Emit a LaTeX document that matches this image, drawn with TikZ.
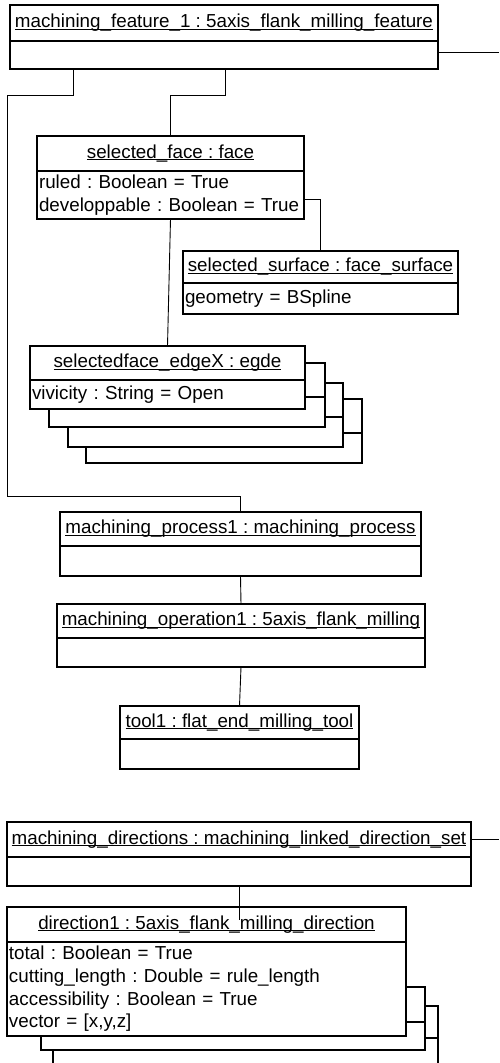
\documentclass[tikz,border=0pt]{standalone}
\usepackage{fontspec}
\setmainfont{Liberation Sans}
\usetikzlibrary{positioning}

\newcommand{\umlfont}{\fontsize{18.8}{22.7}\selectfont\frenchspacing}
\newcommand{\uname}[1]{\setbox0\hbox{#1}\rlap{\rule[-1.7pt]{\wd0}{0.9pt}}\box0}

\tikzset{
  objtitle/.style={draw, line width=1.8pt, fill=white, inner sep=0pt, outer sep=0pt, anchor=north west, font=\umlfont},
  objbody/.style={draw, line width=1.8pt, fill=white, inner xsep=2pt, inner ysep=0pt, outer sep=0pt, align=left, font=\umlfont},
  objshadow/.style={draw, line width=1.8pt, fill=white},
  link/.style={draw, line width=0.9pt},
}

\begin{document}
\begin{tikzpicture}[x=1pt, y=-1pt]
  \useasboundingbox (0,0) rectangle (499,1063);

  % machining feature
  \node[objtitle, minimum width=428pt, minimum height=36pt] (feat) at (10,5) {\uname{machining\_feature\_1 : 5axis\_flank\_milling\_feature}};
  \node[objbody, minimum width=428pt, minimum height=28pt, below=0pt of feat] (featbody) {};

  % selected face
  \node[objtitle, minimum width=267pt, minimum height=35pt] (face) at (37,136) {\uname{selected\_face : face}};
  \node[objbody, text width=263pt, minimum height=48pt, below=0pt of face] (facebody) {ruled : Boolean = True\\developpable : Boolean = True};

  % selected surface
  \node[objtitle, minimum width=275pt, minimum height=32pt] (surf) at (183,251) {\uname{selected\_surface : face\_surface}};
  \node[objbody, text width=271pt, minimum height=31pt, below=0pt of surf] (surfbody) {geometry = BSpline};

  % edges (stacked)
  \draw[objshadow] (86,399) rectangle (362,463);
  \draw[objshadow] (86,433) -- (362,433);
  \draw[objshadow] (68,383) rectangle (343,447);
  \draw[objshadow] (68,417) -- (343,417);
  \draw[objshadow] (49,363) rectangle (325,427);
  \draw[objshadow] (49,397) -- (325,397);
  \node[objtitle, minimum width=275pt, minimum height=34pt] (edge) at (30,346) {\uname{selectedface\_edgeX : egde}};
  \node[objbody, text width=271pt, minimum height=29pt, below=0pt of edge] (edgebody) {vivicity : String = Open};

  % process, operation, tool
  \node[objtitle, minimum width=361pt, minimum height=34pt] (proc) at (60,512) {\uname{machining\_process1 : machining\_process}};
  \node[objbody, minimum width=361pt, minimum height=30pt, below=0pt of proc] (procbody) {};
  \node[objtitle, minimum width=368pt, minimum height=34pt] (oper) at (57,604) {\uname{machining\_operation1 : 5axis\_flank\_milling}};
  \node[objbody, minimum width=368pt, minimum height=29pt, below=0pt of oper] (operbody) {};
  \node[objtitle, minimum width=239pt, minimum height=33pt] (tool) at (120,706) {\uname{tool1 : flat\_end\_milling\_tool}};
  \node[objbody, minimum width=239pt, minimum height=30pt, below=0pt of tool] (toolbody) {};

  % directions
  \node[objtitle, minimum width=464pt, minimum height=35pt] (dirs) at (7,822) {\uname{machining\_directions : machining\_linked\_direction\_set}};
  \node[objbody, minimum width=464pt, minimum height=29pt, below=0pt of dirs] (dirsbody) {};

  \draw[objshadow] (53,1006) rectangle (438,1069);
  \draw[objshadow] (53,1038) -- (438,1038);
  \draw[objshadow] (41,987) rectangle (425,1050);
  \draw[objshadow] (41,1022) -- (425,1022);
  \node[objtitle, minimum width=399pt, minimum height=35pt] (dir1) at (7,907) {\uname{direction1 : 5axis\_flank\_milling\_direction}};
  \node[objbody, text width=395pt, minimum height=94pt, below=0pt of dir1] (dir1body) {total : Boolean = True\\cutting\_length : Double = rule\_length\\accessibility : Boolean = True\\vector = [x,y,z]};

  % links
  \coordinate (featend) at (499,52);
  \coordinate (dirsend) at (499,839);
  \coordinate (dir1end) at (239,920);
  \draw[link] (featend -| featbody.east) -- (featend);
  \draw[link] (featbody.south -| 73,0) -- (73,95) -- (7,95) -- (7,496) -| (proc.north);
  \draw[link] (featbody.south -| 225,0) -- (225,95) -| (face.north);
  \draw[link] (facebody.east |- 0,199) -| (surf.north);
  \draw[link] (facebody.south) -- (edge.north);
  \draw[link] (procbody.south) -- (oper.north);
  \draw[link] (operbody.south) -- (tool.north);
  \draw[link] (dirsend -| dirs.east) -- (dirsend);
  \draw[link] (dirsbody.south) -- (dir1end);
\end{tikzpicture}
\end{document}
